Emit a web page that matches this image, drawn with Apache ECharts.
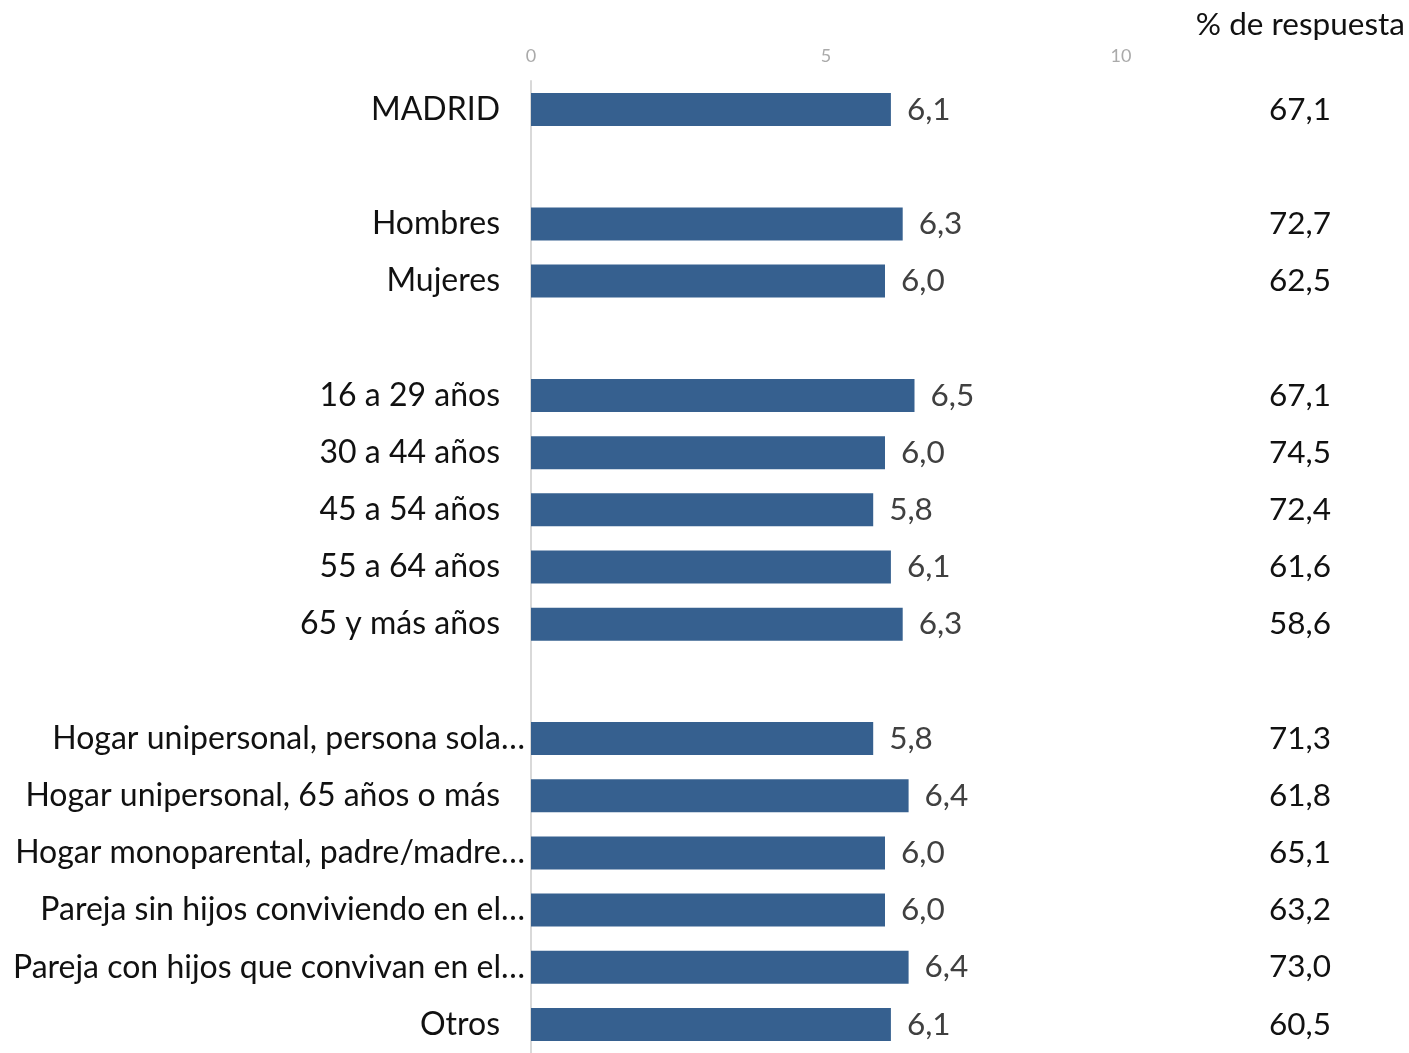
<!DOCTYPE html>
<html>
<head>
<meta charset="utf-8">
<script src="https://cdn.jsdelivr.net/npm/echarts@6/dist/echarts.min.js"></script>
<style>html,body{margin:0;padding:0;background:#fff}#c{width:1409px;height:1053px}</style>
</head>
<body>
<div id="c"></div>
<script>
const categories = ['MADRID', '', 'Hombres', 'Mujeres', '', '16 a 29 años', '30 a 44 años', '45 a 54 años', '55 a 64 años', '65 y más años', '', 'Hogar unipersonal, persona sola…', 'Hogar unipersonal, 65 años o más', 'Hogar monoparental, padre/madre…', 'Pareja sin hijos conviviendo en el…', 'Pareja con hijos que convivan en el…', 'Otros'];
const scores = [6.1, null, 6.3, 6.0, null, 6.5, 6.0, 5.8, 6.1, 6.3, null, 5.8, 6.4, 6.0, 6.0, 6.4, 6.1];
const responseRates = ['67,1', '', '72,7', '62,5', '', '67,1', '74,5', '72,4', '61,6', '58,6', '', '71,3', '61,8', '65,1', '63,2', '73,0', '60,5'];
const xTicks = [0, 5, 10];

const FONT = 'Lato, "Open Sans", sans-serif';
const chart = echarts.init(document.getElementById('c'));
chart.setOption({
  animation: false,
  title: {
    text: '% de respuesta', right: -1, top: 4,
    textStyle: { fontFamily: FONT, fontSize: 31.5, fontWeight: 'normal', color: '#111' }
  },
  grid: { left: 531, width: 590, top: 81, height: 979 },
  xAxis: {
    type: 'value', position: 'top', min: xTicks[0], max: xTicks[xTicks.length - 1], interval: 5,
    axisLine: { show: false }, axisTick: { show: false }, splitLine: { show: false },
    axisLabel: { margin: 16, color: '#aaaaaa', fontSize: 18, fontFamily: FONT }
  },
  yAxis: [{
    type: 'category', data: categories, inverse: true,
    axisLine: { show: true, lineStyle: { color: '#d9d9d9', width: 2 } },
    axisTick: { show: false },
    axisLabel: {
      margin: 6, fontFamily: FONT, fontSize: 32, color: '#111',
      formatter: v => v.endsWith('…') ? '{t|' + v + '}' : '{n|' + v + '}',
      rich: {
        n: { fontFamily: FONT, fontSize: 32, color: '#111', padding: [0, 25, 0, 0] },
        t: { fontFamily: FONT, fontSize: 32, color: '#111' }
      }
    }
  }, {
    type: 'category', data: responseRates, inverse: true, position: 'right',
    axisLine: { show: false }, axisTick: { show: false },
    axisLabel: { margin: 210, align: 'right', fontFamily: FONT, fontSize: 31.5, color: '#111', padding: [6, 0, 0, 0] }
  }],
  series: [{
    type: 'bar', data: scores, barWidth: 33,
    itemStyle: { color: '#36608f' },
    label: {
      show: true, position: 'right', distance: 16,
      fontFamily: FONT, fontSize: 31.5, color: '#404040',
      formatter: p => p.value == null ? '' : p.value.toFixed(1).replace('.', ',')
    }
  }]
});
</script>
</body>
</html>
